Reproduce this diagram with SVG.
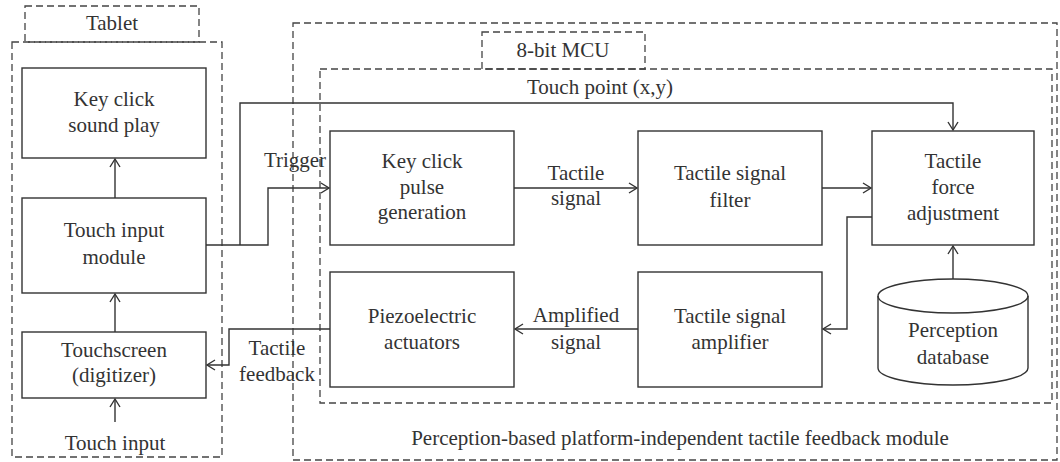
<svg xmlns="http://www.w3.org/2000/svg" width="1060" height="462" viewBox="0 0 1060 462">
<style>
text{font-family:"Liberation Serif","Times New Roman",serif;font-size:21px;fill:#333;text-anchor:middle}
.box{fill:#fff;stroke:#333;stroke-width:1.4}
.dash{fill:none;stroke:#444;stroke-width:1.3;stroke-dasharray:7 4}
.line{fill:none;stroke:#333;stroke-width:1.4}
</style>
<defs>
<marker id="arr" markerWidth="12" markerHeight="12" refX="9" refY="6" orient="auto" markerUnits="userSpaceOnUse">
<path d="M1,1 L9,6 L1,11" fill="none" stroke="#333" stroke-width="1.4"/>
</marker>
</defs>
<rect width="1060" height="462" fill="#fff"/>
<g id="containers">
<rect class="dash" x="12" y="42" width="210" height="415"/>
<rect class="dash" x="25" y="6" width="174" height="36"/>
<text x="112" y="30">Tablet</text>
<rect class="dash" x="293" y="23" width="764" height="437"/>
<rect class="dash" x="320" y="69" width="732" height="334"/>
<rect class="dash" x="482" y="32" width="163" height="37"/>
<text x="563" y="57">8-bit MCU</text>
<text x="680" y="445">Perception-based platform-independent tactile feedback module</text>
</g>
<g id="connectors">
<line class="line" x1="115" y1="198" x2="115" y2="159" marker-end="url(#arr)"/>
<line class="line" x1="115" y1="332" x2="115" y2="294" marker-end="url(#arr)"/>
<line class="line" x1="115" y1="422" x2="115" y2="399" marker-end="url(#arr)"/>
<polyline class="line" points="206,245 268,245 268,188 329,188" marker-end="url(#arr)"/>
<polyline class="line" points="240,245 240,103 953,103 953,130" marker-end="url(#arr)"/>
<line class="line" x1="514" y1="188" x2="637" y2="188" marker-end="url(#arr)"/>
<line class="line" x1="822" y1="188" x2="871" y2="188" marker-end="url(#arr)"/>
<polyline class="line" points="872,217 847,217 847,329 823,329" marker-end="url(#arr)"/>
<line class="line" x1="638" y1="329" x2="515" y2="329" marker-end="url(#arr)"/>
<polyline class="line" points="330,329 229,329 229,365 207,365" marker-end="url(#arr)"/>
<line class="line" x1="953" y1="279" x2="953" y2="246" marker-end="url(#arr)"/>
<text x="295" y="167">Trigger</text>
<text x="600" y="94">Touch point (x,y)</text>
<text x="576" y="180">Tactile</text>
<text x="576" y="205">signal</text>
<text x="576" y="322">Amplified</text>
<text x="576" y="349">signal</text>
<text x="277" y="355">Tactile</text>
<text x="277" y="381">feedback</text>
<text x="115" y="450">Touch input</text>
</g>
<g id="key-click-sound">
<rect class="box" x="22" y="68" width="184" height="90"/>
<text x="114" y="106">Key click</text>
<text x="114" y="132">sound play</text>
</g>
<g id="touch-input-module">
<rect class="box" x="22" y="198" width="184" height="95"/>
<text x="114" y="237">Touch input</text>
<text x="114" y="264">module</text>
</g>
<g id="touchscreen">
<rect class="box" x="22" y="332" width="184" height="66"/>
<text x="114" y="357">Touchscreen</text>
<text x="114" y="382">(digitizer)</text>
</g>
<g id="pulse-generation">
<rect class="box" x="330" y="131" width="184" height="114"/>
<text x="422" y="168">Key click</text>
<text x="422" y="194">pulse</text>
<text x="422" y="219">generation</text>
</g>
<g id="signal-filter">
<rect class="box" x="638" y="131" width="184" height="114"/>
<text x="730" y="180">Tactile signal</text>
<text x="730" y="207">filter</text>
</g>
<g id="force-adjustment">
<rect class="box" x="872" y="131" width="162" height="114"/>
<text x="953" y="168">Tactile</text>
<text x="953" y="194">force</text>
<text x="953" y="220">adjustment</text>
</g>
<g id="piezo">
<rect class="box" x="330" y="272" width="184" height="115"/>
<text x="422" y="323">Piezoelectric</text>
<text x="422" y="349">actuators</text>
</g>
<g id="amplifier">
<rect class="box" x="638" y="272" width="184" height="115"/>
<text x="730" y="323">Tactile signal</text>
<text x="730" y="349">amplifier</text>
</g>
<g id="database">
<path class="box" d="M878,296 L878,368 A75,17 0 0 0 1028,368 L1028,296 A75,17 0 0 0 878,296 Z"/>
<path class="line" d="M878,296 A75,17 0 0 0 1028,296"/>
<text x="953" y="337">Perception</text>
<text x="953" y="364">database</text>
</g>
</svg>
